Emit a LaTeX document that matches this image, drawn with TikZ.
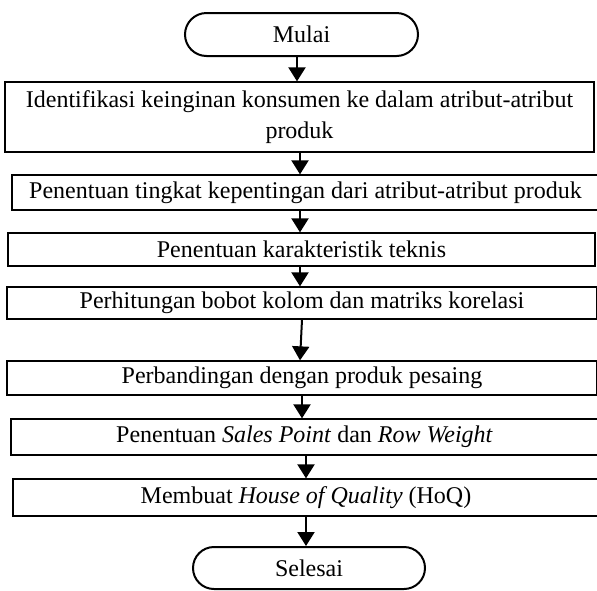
\documentclass[tikz,border=0pt]{standalone}
\usepackage{fontspec}
\setmainfont{Liberation Serif}
\usetikzlibrary{shapes.misc,arrows.meta}
\begin{document}
\begin{tikzpicture}[x=1pt,y=1pt,
  proc/.style={draw,line width=1.3pt,rectangle,inner sep=0pt,align=center,font=\fontsize{24}{31}\selectfont},
  term/.style={draw,line width=2pt,rounded rectangle,inner sep=0pt,font=\fontsize{24}{28}\selectfont},
  flow/.style={line width=2pt,-{Triangle[width=17pt,length=14pt]}}]
\useasboundingbox (0,0) rectangle (597,-590);
\node[term,minimum width=233pt,minimum height=43pt] (m) at (301.5,-34.5) {Mulai};
\node[proc,minimum width=589pt,minimum height=70pt] (b1) at (299.5,-117) {Identifikasi keinginan konsumen ke dalam atribut-atribut\\produk};
\node[proc,minimum width=587pt,minimum height=35pt] (b2) at (305.5,-192.5) {Penentuan tingkat kepentingan dari atribut-atribut produk};
\node[proc,minimum width=587pt,minimum height=33pt] (b3) at (301.5,-249.5) {Penentuan karakteristik teknis};
\node[proc,minimum width=590pt,minimum height=32pt] (b4) at (302,-303) {Perhitungan bobot kolom dan matriks korelasi};
\node[proc,minimum width=590pt,minimum height=34pt] (b5) at (302,-378) {Perbandingan dengan produk pesaing};
\node[proc,minimum width=587pt,minimum height=36pt] (b6) at (304.5,-437) {Penentuan \textit{Sales Point} dan \textit{Row Weight}};
\node[proc,minimum width=586pt,minimum height=37pt] (b7) at (306,-497.5) {Membuat \textit{House of Quality} (HoQ)};
\node[term,minimum width=232pt,minimum height=42pt] (s) at (309,-568) {Selesai};
\draw[flow] (m.south -| 297,0) -- (b1.north -| 297,0);
\draw[flow] (b1.south -| 300,0) -- (b2.north -| 300,0);
\draw[flow] (b2.south -| 300,0) -- (b3.north -| 300,0);
\draw[flow] (b3.south -| 300,0) -- (b4.north -| 300,0);
\draw[flow] (b4.south -| 302,0) -- (b5.north -| 300,0);
\draw[flow] (b5.south -| 302,0) -- (b6.north -| 302,0);
\draw[flow] (b6.south -| 306,0) -- (b7.north -| 306,0);
\draw[flow] (b7.south -| 306,0) -- (s.north -| 306,0);
\end{tikzpicture}
\end{document}
